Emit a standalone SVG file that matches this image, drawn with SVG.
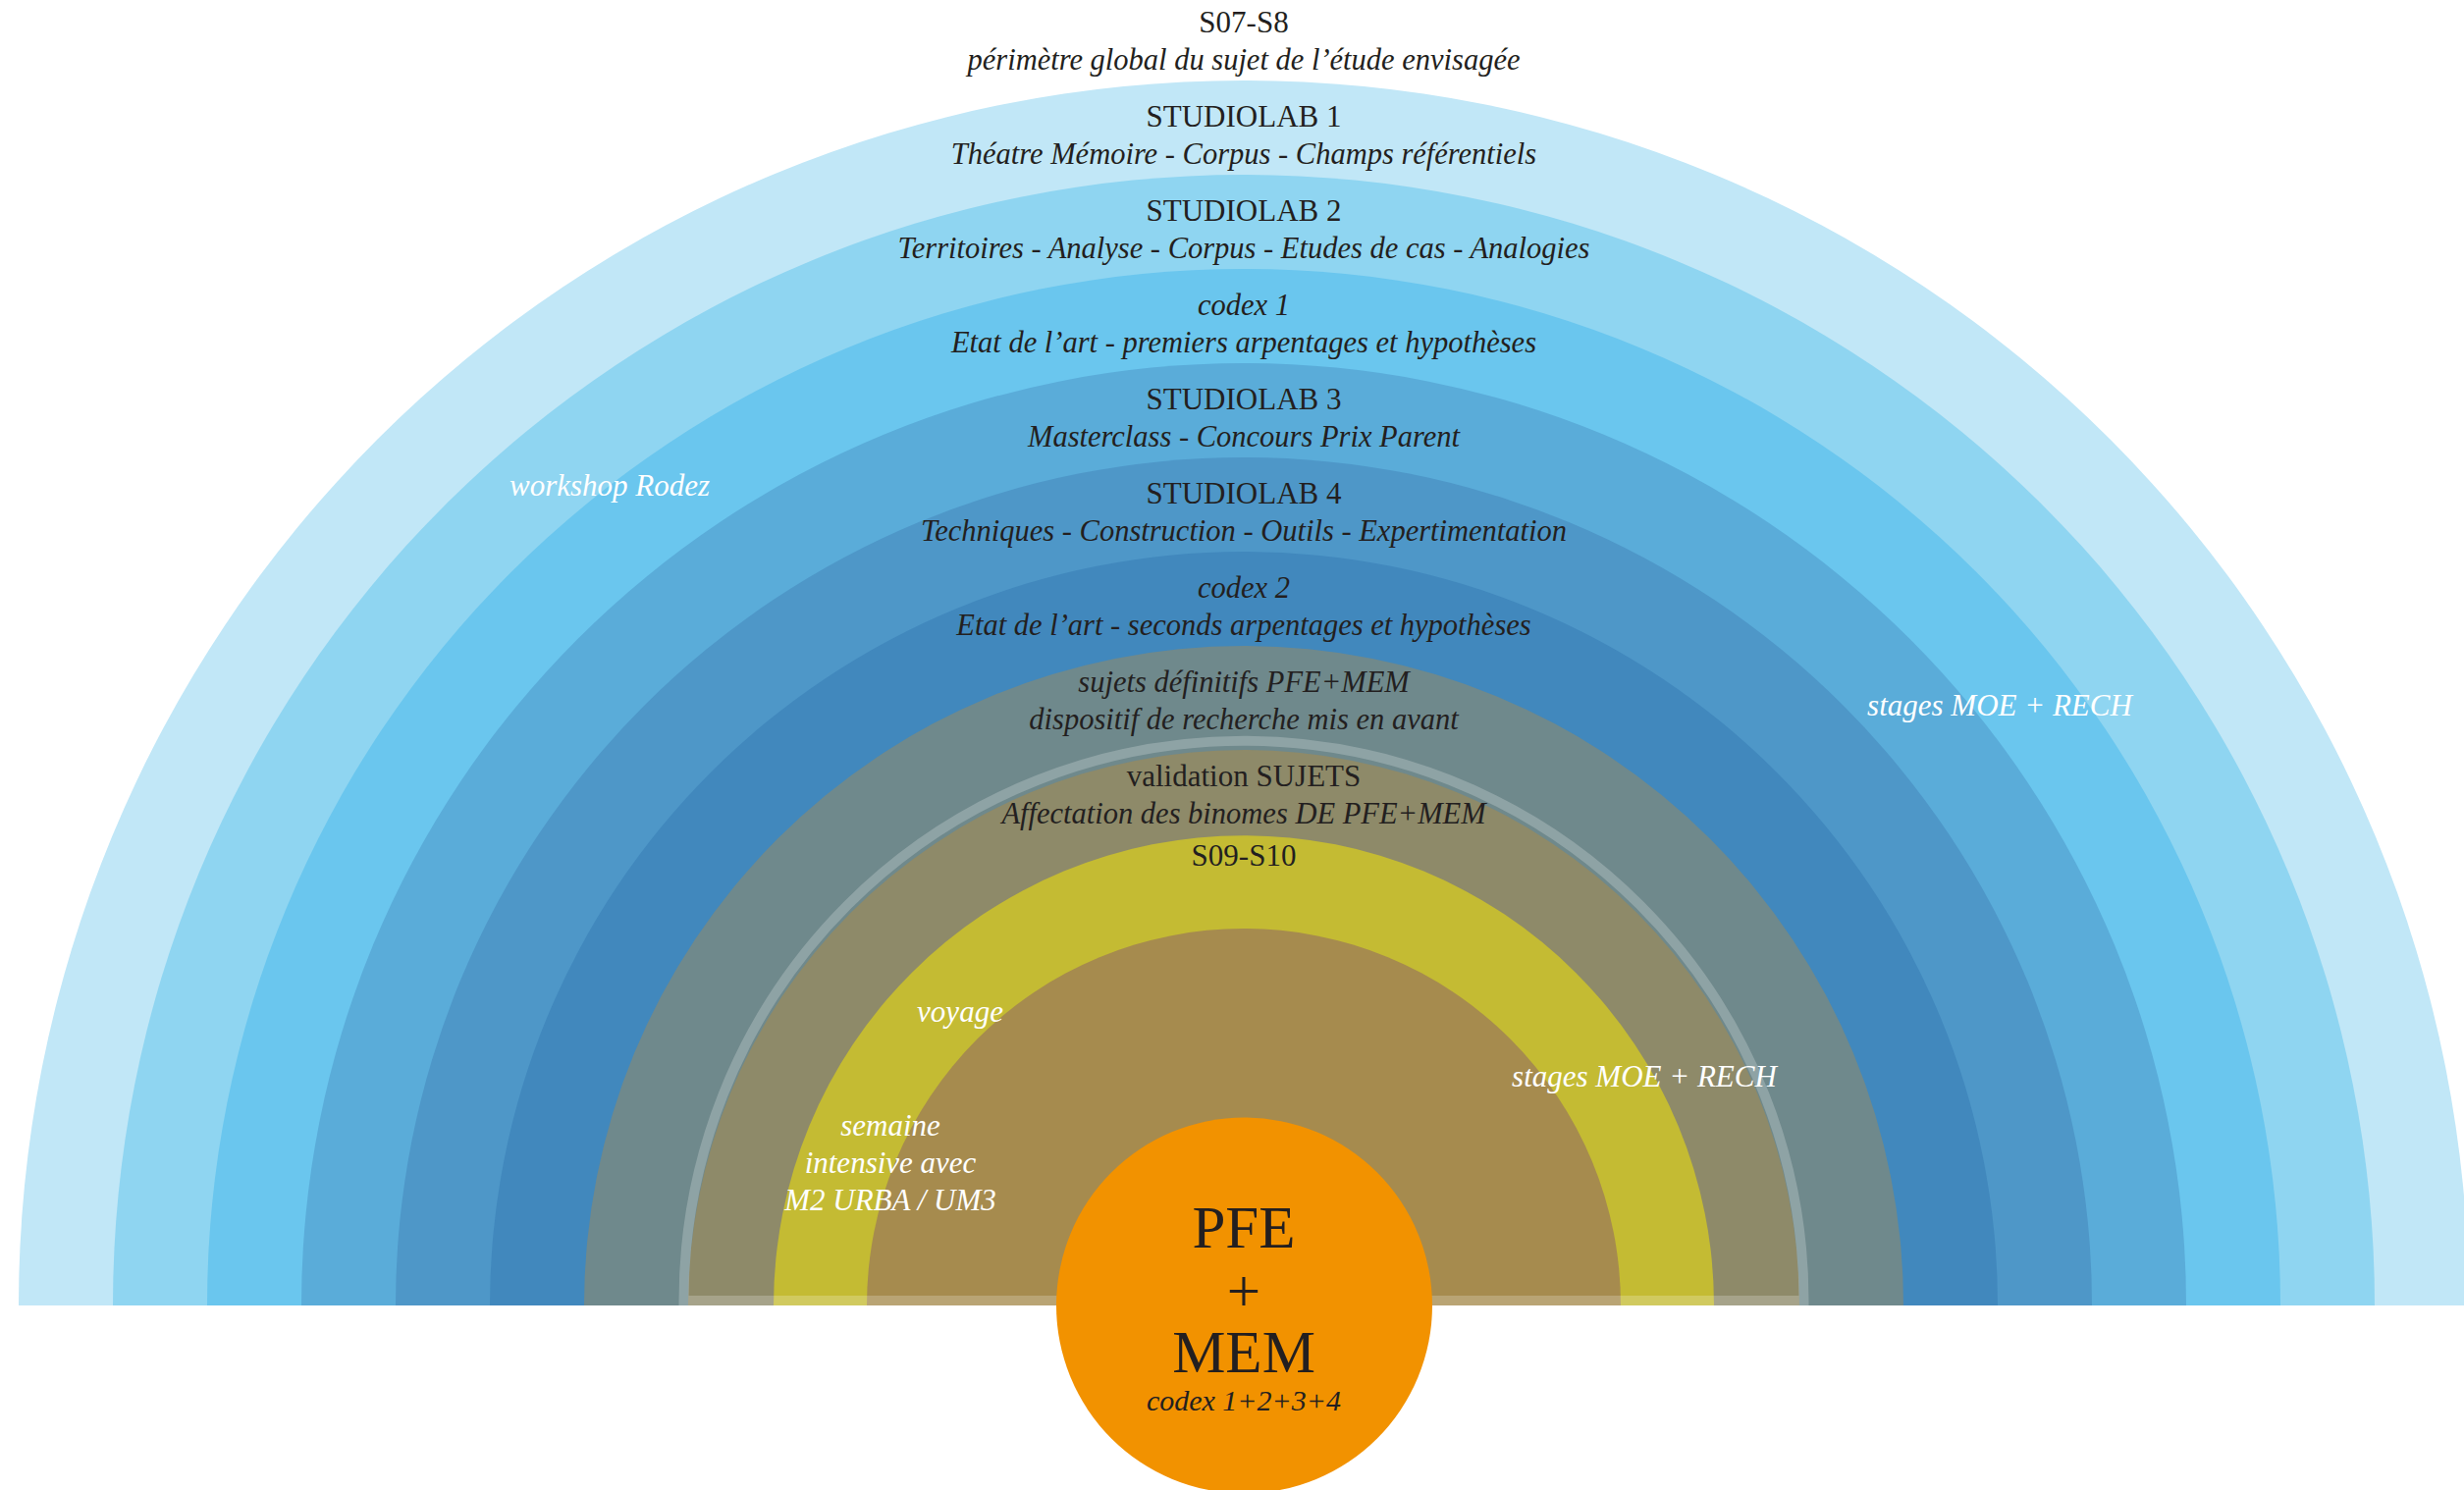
<svg xmlns="http://www.w3.org/2000/svg" width="2510" height="1518" viewBox="0 0 2510 1518">
<style>
  text { font-family: "Liberation Serif", "Times New Roman", serif; text-anchor: middle; }
  .lbl { font-size: 31px; fill: #231f20; }
  .it { font-style: italic; font-size: 30.5px; }
  .wh { font-size: 31px; fill: #ffffff; font-style: italic; }
  .big { font-size: 61px; fill: #231f20; }
</style>
<rect x="0" y="0" width="2510" height="1518" fill="#ffffff"/>
<g id="rings">
  <path id="ring-s07s8" d="M19 1330 A1248 1248 0 0 1 2515 1330 Z" fill="#c1e7f7"/>
  <path id="ring-studiolab1" d="M115 1330 A1152 1152 0 0 1 2419 1330 Z" fill="#8fd5f1"/>
  <path id="ring-studiolab2" d="M211 1330 A1056 1056 0 0 1 2323 1330 Z" fill="#6ac6ee"/>
  <path id="ring-codex1" d="M307 1330 A960 960 0 0 1 2227 1330 Z" fill="#5aacd9"/>
  <path id="ring-studiolab3" d="M403 1330 A864 864 0 0 1 2131 1330 Z" fill="#4e97c8"/>
  <path id="ring-studiolab4" d="M499 1330 A768 768 0 0 1 2035 1330 Z" fill="#4188bd"/>
  <path id="ring-sujets" d="M595 1330 A672 672 0 0 1 1939 1330 Z" fill="#6f898c"/>
  <path id="ring-validation" d="M701 1330 A566 566 0 0 1 1833 1330 Z" fill="#8e8a69"/>
  <path id="ring-s09s10" d="M788 1330 A479 479 0 0 1 1746 1330 Z" fill="#c4bb33"/>
  <path id="ring-inner" d="M883 1330 A384 384 0 0 1 1651 1330 Z" fill="#a68b4e"/>
  <path id="ring-outline" d="M696.5 1325 A570.5 570.5 0 0 1 1837.5 1325 Z" fill="none" stroke="#ffffff" stroke-opacity="0.22" stroke-width="10"/>
</g>
<g id="labels">
  <g id="n-s07s8">
    <text class="lbl" x="1267" y="33">S07-S8</text>
    <text class="lbl it" x="1267" y="71">périmètre global du sujet de l’étude envisagée</text>
  </g>
  <g id="n-studiolab1">
    <text class="lbl" x="1267" y="129">STUDIOLAB 1</text>
    <text class="lbl it" x="1267" y="167">Théatre Mémoire - Corpus - Champs référentiels</text>
  </g>
  <g id="n-studiolab2">
    <text class="lbl" x="1267" y="225">STUDIOLAB 2</text>
    <text class="lbl it" x="1267" y="263">Territoires - Analyse - Corpus - Etudes de cas - Analogies</text>
  </g>
  <g id="n-codex1">
    <text class="lbl it" x="1267" y="321">codex 1</text>
    <text class="lbl it" x="1267" y="359">Etat de l’art - premiers arpentages et hypothèses</text>
  </g>
  <g id="n-studiolab3">
    <text class="lbl" x="1267" y="417">STUDIOLAB 3</text>
    <text class="lbl it" x="1267" y="455">Masterclass - Concours Prix Parent</text>
  </g>
  <g id="n-studiolab4">
    <text class="lbl" x="1267" y="513">STUDIOLAB 4</text>
    <text class="lbl it" x="1267" y="551">Techniques - Construction - Outils - Expertimentation</text>
  </g>
  <g id="n-codex2">
    <text class="lbl it" x="1267" y="609">codex 2</text>
    <text class="lbl it" x="1267" y="647">Etat de l’art - seconds arpentages et hypothèses</text>
  </g>
  <g id="n-sujets">
    <text class="lbl it" x="1267" y="705">sujets définitifs PFE+MEM</text>
    <text class="lbl it" x="1267" y="743">dispositif de recherche mis en avant</text>
  </g>
  <g id="n-validation">
    <text class="lbl" x="1267" y="801">validation SUJETS</text>
    <text class="lbl it" x="1267" y="839">Affectation des binomes DE PFE+MEM</text>
  </g>
  <g id="n-s09s10">
    <text class="lbl" x="1267" y="882">S09-S10</text>
  </g>
  <g id="n-workshop">
    <text class="wh" x="621" y="505">workshop Rodez</text>
  </g>
  <g id="n-stages-outer">
    <text class="wh" x="2037" y="729">stages MOE + RECH</text>
  </g>
  <g id="n-stages-inner">
    <text class="wh" x="1675" y="1107">stages MOE + RECH</text>
  </g>
  <g id="n-voyage">
    <text class="wh" x="978" y="1041">voyage</text>
  </g>
  <g id="n-semaine">
    <text class="wh" x="907" y="1157">semaine</text>
    <text class="wh" x="907" y="1195">intensive avec</text>
    <text class="wh" x="907" y="1233">M2 URBA / UM3</text>
  </g>
</g>
<g id="n-pfe-mem">
  <circle cx="1267.5" cy="1330" r="191.5" fill="#f29200"/>
  <text class="big" x="1267" y="1271">PFE</text>
  <text class="big" x="1267" y="1336">+</text>
  <text class="big" x="1267" y="1398">MEM</text>
  <text class="lbl it" x="1267" y="1437" style="font-size:30px">codex 1+2+3+4</text>
</g>
</svg>
